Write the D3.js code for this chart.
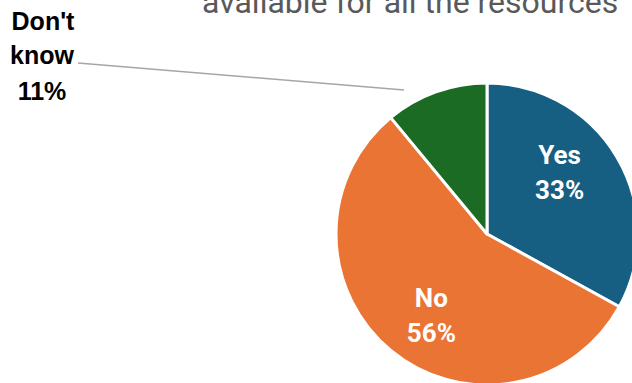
<!DOCTYPE html>
<html>
<head>
<meta charset="utf-8">
<script src="https://cdn.jsdelivr.net/npm/d3@7"></script>
<style>
  html, body { margin: 0; padding: 0; background: #fff; }
  svg { display: block; }
</style>
</head>
<body>
<svg id="chart" width="632" height="383"></svg>
<script>
// Survey answers and their shares (percent)
const categories = ["Yes", "No", "Don't know"];
const values = [33, 56, 11];
const colors = ["#175f82", "#ea7434", "#1b6b25"];
const titleText = "available for all the resources";

const svg = d3.select("#chart");
const cx = 487, cy = 234, radius = 151;

// Title line (partly above the visible area)
svg.append("text")
  .attr("x", 202)
  .attr("y", 13)
  .attr("font-family", "Roboto, 'Open Sans', sans-serif")
  .attr("font-size", 32)
  .attr("fill", "#595959")
  .text(titleText);

const data = categories.map((c, i) => ({ name: c, value: values[i], color: colors[i] }));

const pie = d3.pie().sort(null).value(d => d.value);
const arcs = pie(data);
const arc = d3.arc().innerRadius(0).outerRadius(radius);

const g = svg.append("g").attr("transform", `translate(${cx},${cy})`);

g.selectAll("path")
  .data(arcs)
  .join("path")
  .attr("d", arc)
  .attr("fill", d => d.data.color)
  .attr("stroke", "#fff")
  .attr("stroke-width", 3)
  .attr("stroke-linejoin", "round");

// Labels inside the two large slices: centroid plus a nudge
const inner = [
  { idx: 0, dx: -8, dy: -14 },
  { idx: 1, dx: 4, dy: 9 }
];
const labArc = d3.arc().innerRadius(radius * 0.62).outerRadius(radius * 0.62);
inner.forEach(({ idx, dx, dy }) => {
  const a = arcs[idx];
  const [x0, y0] = labArc.centroid(a);
  const x = x0 + dx, y = y0 + dy;
  const t = g.append("text")
    .attr("text-anchor", "middle")
    .attr("font-family", "Roboto, 'Open Sans', sans-serif")
    .attr("font-weight", "bold")
    .attr("font-size", 26)
    .attr("fill", "#fff");
  t.append("tspan").attr("x", x).attr("y", y - 8).text(a.data.name);
  t.append("tspan").attr("x", x).attr("y", y + 27).text(a.data.value + "%");
});

// Outside label with leader line for the small slice
const small = arcs[2];
svg.append("line")
  .attr("x1", 78).attr("y1", 63)
  .attr("x2", 404).attr("y2", 90)
  .attr("stroke", "#a6a6a6")
  .attr("stroke-width", 1.5);

const ol = svg.append("text")
  .attr("text-anchor", "middle")
  .attr("font-family", "'Liberation Sans', Arial, sans-serif")
  .attr("font-weight", "bold")
  .attr("font-size", 25)
  .attr("fill", "#000");
ol.append("tspan").attr("x", 43).attr("y", 30).text("Don't");
ol.append("tspan").attr("x", 42).attr("y", 64).text("know");
ol.append("tspan").attr("x", 42).attr("y", 100).text(small.data.value + "%");
</script>
</body>
</html>
